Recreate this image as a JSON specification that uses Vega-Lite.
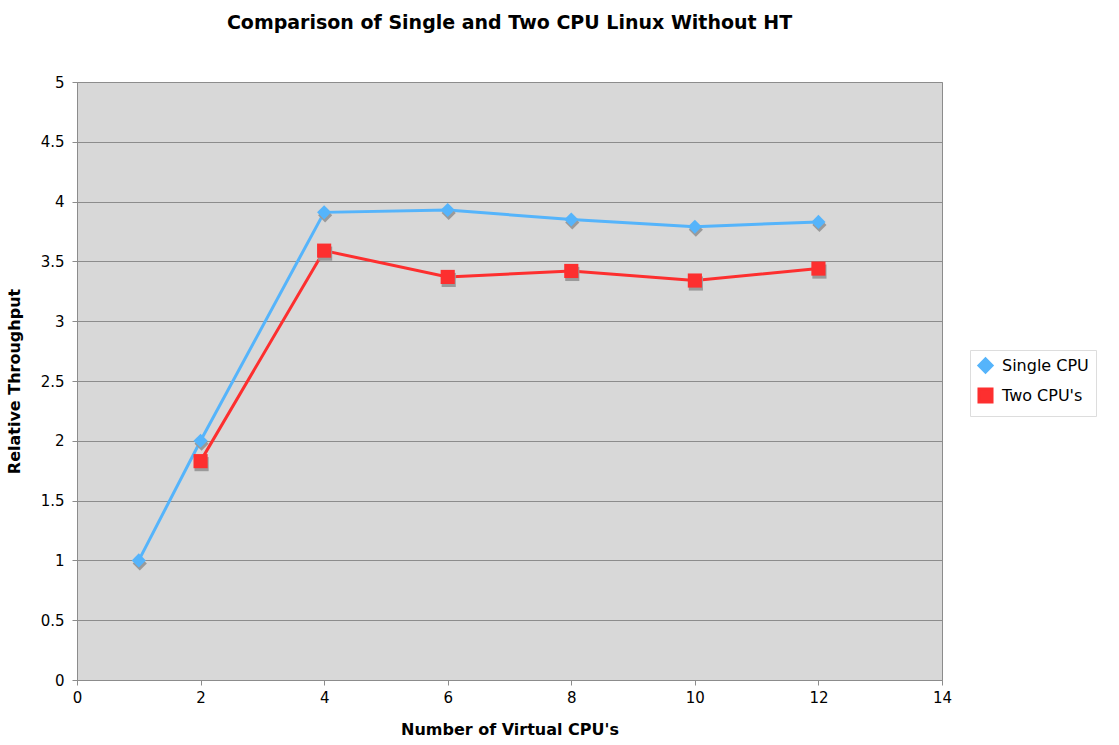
{
  "$schema": "https://vega.github.io/schema/vega-lite/v6.json",
  "autosize": "none",
  "width": 865,
  "height": 598,
  "padding": {"left": 77, "top": 82, "right": 177, "bottom": 65},
  "background": "white",
  "title": {"text": "Comparison of Single and Two CPU Linux Without HT", "font": "DejaVu Sans", "fontSize": 19, "fontWeight": "bold", "color": "black", "offset": 42, "anchor": "middle"},
  "config": {
    "font": "DejaVu Sans",
    "view": {"fill": "#d8d8d8", "stroke": "#8c8c8c", "strokeWidth": 1}
  },
  "data": {"values": [
    {"cpus": 1, "tp": 1.0, "series": "Single CPU"},
    {"cpus": 2, "tp": 2.0, "series": "Single CPU"},
    {"cpus": 4, "tp": 3.91, "series": "Single CPU"},
    {"cpus": 6, "tp": 3.93, "series": "Single CPU"},
    {"cpus": 8, "tp": 3.85, "series": "Single CPU"},
    {"cpus": 10, "tp": 3.79, "series": "Single CPU"},
    {"cpus": 12, "tp": 3.83, "series": "Single CPU"},
    {"cpus": 2, "tp": 1.83, "series": "Two CPU's"},
    {"cpus": 4, "tp": 3.59, "series": "Two CPU's"},
    {"cpus": 6, "tp": 3.37, "series": "Two CPU's"},
    {"cpus": 8, "tp": 3.42, "series": "Two CPU's"},
    {"cpus": 10, "tp": 3.34, "series": "Two CPU's"},
    {"cpus": 12, "tp": 3.44, "series": "Two CPU's"}
  ]},
  "encoding": {
    "x": {"field": "cpus", "type": "quantitative", "scale": {"domain": [0, 14]},
      "axis": {"title": "Number of Virtual CPU's", "values": [0,2,4,6,8,10,12,14], "grid": false, "labelFlush": false, "titleFontSize": 16, "titleFontWeight": "bold", "titleColor": "black", "labelFontSize": 15, "labelColor": "black", "domainColor": "#8c8c8c", "tickColor": "#8c8c8c", "tickSize": 5, "labelPadding": 5, "titlePadding": 16}},
    "y": {"field": "tp", "type": "quantitative", "scale": {"domain": [0, 5]},
      "axis": {"title": "Relative Throughput", "values": [0,0.5,1,1.5,2,2.5,3,3.5,4,4.5,5], "format": "~g", "labelFlush": false, "gridColor": "#8c8c8c", "gridOpacity": 1, "titleFontSize": 16, "titleFontWeight": "bold", "titleColor": "black", "labelFontSize": 15, "labelColor": "black", "domainColor": "#8c8c8c", "tickColor": "#8c8c8c", "tickSize": 5, "labelPadding": 8, "titlePadding": 18}}
  },
  "layer": [
    {
      "mark": {"type": "line", "strokeWidth": 3},
      "encoding": {
        "color": {"field": "series", "type": "nominal", "scale": {"domain": ["Single CPU", "Two CPU's"], "range": ["#55b4fb", "#fd2f2f"]},
          "legend": {"title": null, "orient": "none", "legendX": 893, "legendY": 268, "labelFontSize": 16, "labelColor": "black", "symbolSize": 170, "symbolStrokeWidth": 3, "strokeColor": "#dddddd", "padding": 7, "rowPadding": 3, "labelOffset": 8}}
      }
    },
    {
      "mark": {"type": "point", "filled": true, "opacity": 1, "color": "#9a9a9a", "xOffset": 1, "yOffset": 3, "size": 200},
      "encoding": {
        "shape": {"field": "series", "type": "nominal", "scale": {"domain": ["Single CPU", "Two CPU's"], "range": ["diamond", "square"]}, "legend": null}
      }
    },
    {
      "mark": {"type": "point", "filled": true, "opacity": 1, "size": 200},
      "encoding": {
        "color": {"field": "series", "type": "nominal", "scale": {"domain": ["Single CPU", "Two CPU's"], "range": ["#55b4fb", "#fd2f2f"]}},
        "shape": {"field": "series", "type": "nominal", "scale": {"domain": ["Single CPU", "Two CPU's"], "range": ["diamond", "square"]}, "legend": null}
      }
    }
  ]
}
